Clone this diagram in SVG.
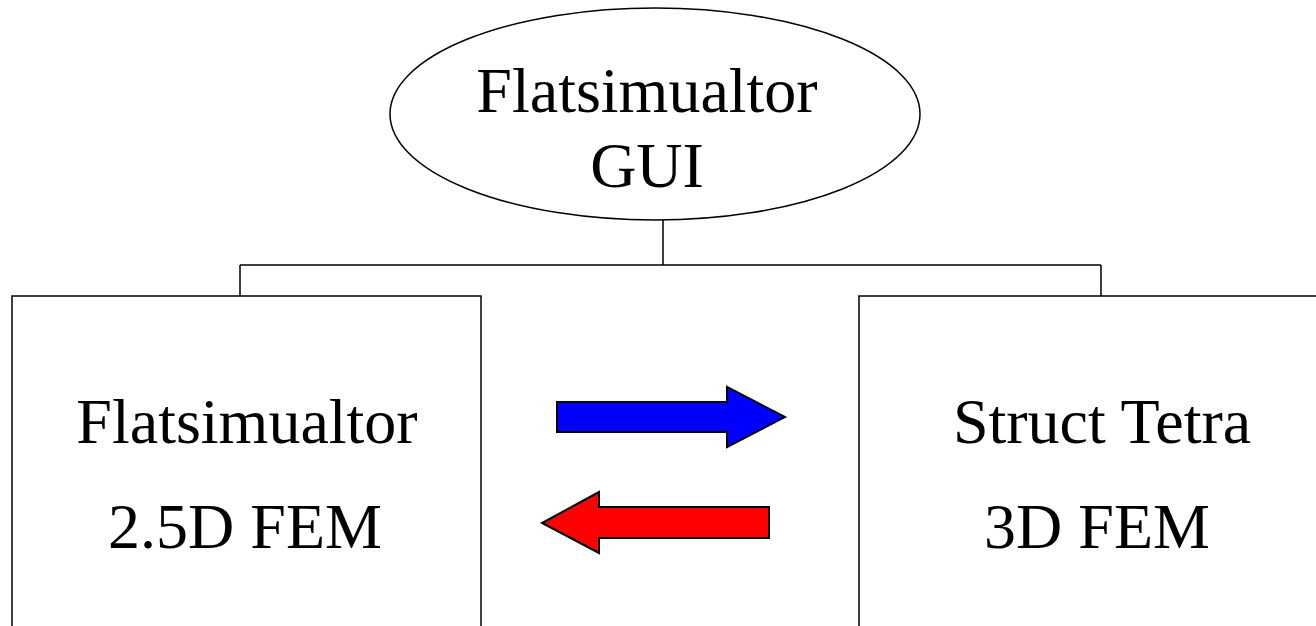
<svg xmlns="http://www.w3.org/2000/svg" width="1316" height="626" viewBox="0 0 1316 626">
<style>
.shape{fill:#fff;stroke:#000;stroke-width:1.5}
.conn{fill:none;stroke:#000;stroke-width:1.5}
.lbl{font-family:"Liberation Serif","Times New Roman",serif;font-size:64px;fill:#000;text-anchor:middle}
.arrow{stroke:#000;stroke-width:2;stroke-linejoin:miter}
</style>
<rect width="1316" height="626" fill="#fff"/>
<g id="connectors">
<path class="conn" d="M663 220 V265 M240 265 H1101 M240 265 V296 M1101 265 V296"/>
</g>
<g id="gui">
<ellipse class="shape" cx="655" cy="114" rx="265" ry="106"/>
<text class="lbl" x="647" y="112">Flatsimualtor</text>
<text class="lbl" x="647" y="187">GUI</text>
</g>
<g id="flat">
<rect class="shape" x="12" y="296" width="469" height="340"/>
<text class="lbl" x="247" y="443">Flatsimualtor</text>
<text class="lbl" x="245" y="548">2.5D FEM</text>
</g>
<g id="struct">
<rect class="shape" x="859" y="296" width="470" height="340"/>
<text class="lbl" x="1102" y="443">Struct Tetra</text>
<text class="lbl" x="1097" y="548">3D FEM</text>
</g>
<g id="arrows">
<polygon class="arrow" fill="#0000ff" points="557,402 727,402 727,387 785,417 727,447 727,432 557,432"/>
<polygon class="arrow" fill="#ff0000" points="769,507 599,507 599,492 542,523 599,553 599,538 769,538"/>
</g>
</svg>
